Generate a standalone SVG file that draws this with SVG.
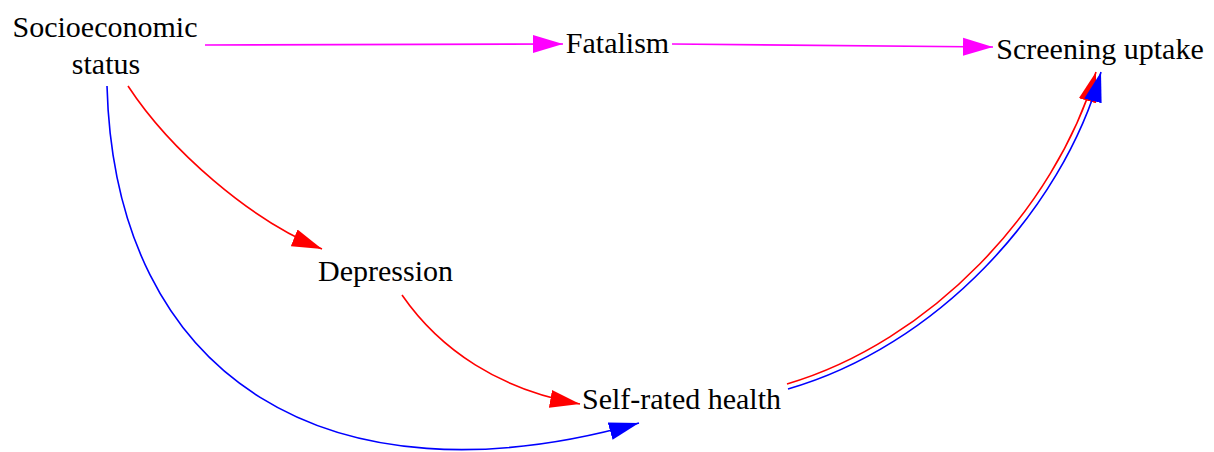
<svg xmlns="http://www.w3.org/2000/svg" width="1214" height="452" viewBox="0 0 1214 452">
  <style>
    .label { font-size: 30px; fill: #000; text-anchor: middle; }
    .edge { fill: none; stroke-width: 1.6; }
    .magenta { stroke: #ff00ff; marker-end: url(#arrow-magenta); }
    .red { stroke: #ff0000; marker-end: url(#arrow-red); }
    .blue { stroke: #0000ff; marker-end: url(#arrow-blue); }
  </style>
  <defs>
    <marker id="arrow-magenta" markerUnits="userSpaceOnUse" markerWidth="32" markerHeight="20" viewBox="0 -10 32 20" refX="30" refY="0" orient="auto">
      <path d="M0,-9 L30,0 L0,9 z" fill="#ff00ff"/>
    </marker>
    <marker id="arrow-red" markerUnits="userSpaceOnUse" markerWidth="32" markerHeight="20" viewBox="0 -10 32 20" refX="30" refY="0" orient="auto">
      <path d="M0,-9 L30,0 L0,9 z" fill="#ff0000"/>
    </marker>
    <marker id="arrow-blue" markerUnits="userSpaceOnUse" markerWidth="32" markerHeight="20" viewBox="0 -10 32 20" refX="30" refY="0" orient="auto">
      <path d="M0,-9 L30,0 L0,9 z" fill="#0000ff"/>
    </marker>
  </defs>

  <g id="edges">
    <path class="edge magenta" d="M205,45 L563,44"/>
    <path class="edge magenta" d="M672,44 L993,47"/>
    <path class="edge red" d="M128,86 C170,150 250,220 322,249"/>
    <path class="edge red" d="M402,295 C440,350 500,390 580,404"/>
    <path class="edge blue" d="M107,86 C115,380 330,510 639,423"/>
    <path class="edge red" d="M787,384 C930,342 1055,210 1096,72"/>
    <path class="edge blue" d="M788,389 C935,347 1062,212 1101,72"/>
  </g>

  <g id="node-ses">
    <text class="label" font-family="Times New Roman" x="105" y="37">Socioeconomic</text>
    <text class="label" font-family="Times New Roman" x="106" y="74">status</text>
  </g>
  <g id="node-fatalism">
    <text class="label" font-family="Times New Roman" x="617.5" y="53">Fatalism</text>
  </g>
  <g id="node-screening">
    <text class="label" font-family="Times New Roman" x="1100" y="59">Screening uptake</text>
  </g>
  <g id="node-depression">
    <text class="label" font-family="serif" x="385.5" y="281">Depression</text>
  </g>
  <g id="node-selfrated">
    <text class="label" font-family="Times New Roman" x="681.5" y="409">Self-rated health</text>
  </g>
</svg>
